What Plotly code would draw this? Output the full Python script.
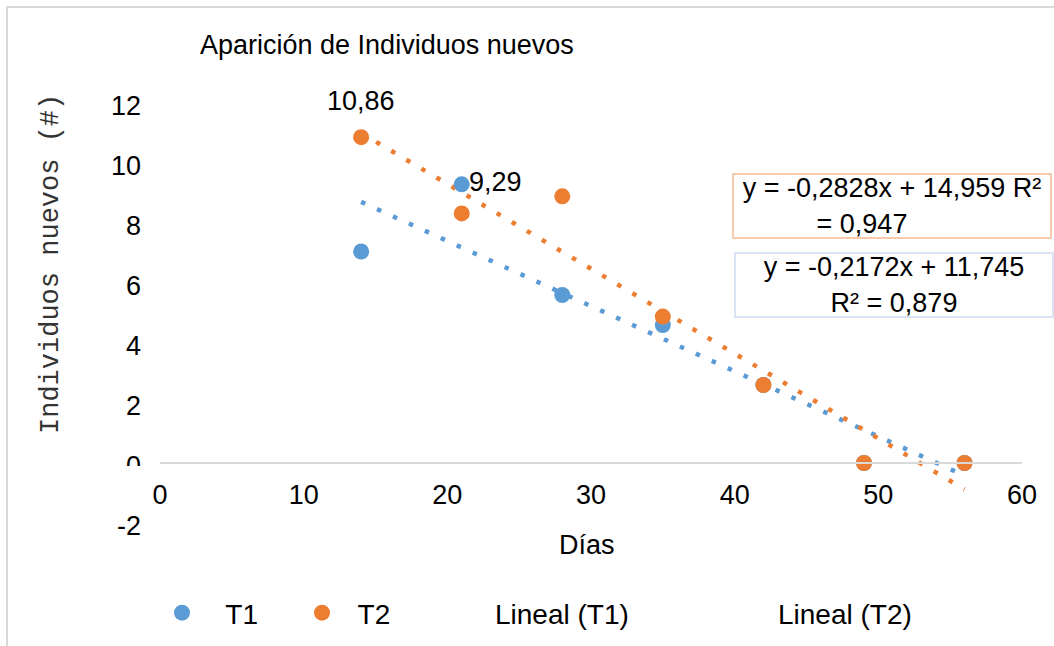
import plotly.graph_objects as go

# Days of observation and new individuals per treatment
dias = [14, 21, 28, 35, 42, 49, 56]
t1 = [7.05, 9.29, 5.60, 4.60, 2.60, 0.0, 0.0]
t2 = [10.86, 8.32, 8.89, 4.88, 2.60, 0.0, 0.0]

# Linear trend coefficients (slope, intercept, R²)
fit_t1 = (-0.2172, 11.745, 0.879)
fit_t2 = (-0.2828, 14.959, 0.947)

x_ticks = [0, 10, 20, 30, 40, 50, 60]
y_ticks = [-2, 0, 2, 4, 6, 8, 10, 12]

BLUE = "#5B9BD5"
ORANGE = "#ED7D31"
FONT = "Liberation Sans, Arial, Helvetica, sans-serif"
FS = 27

W, H = 1054, 646
ML, MR, MT, MB = 160, 32, 103, 123


def paper_x(px):
    return (px - ML) / (W - ML - MR)


def paper_y(py):
    return (H - MB - py) / (H - MT - MB)


def fmt(v, d):
    return f"{v:.{d}f}".replace(".", ",")


def trend(fit, xs):
    m, b, _ = fit
    return [m * x + b for x in xs]


x_span = [min(dias), max(dias)]
dot = "4.5px,13px"

fig = go.Figure()

fig.add_trace(go.Scatter(
    x=x_span, y=trend(fit_t1, x_span), mode="lines",
    line=dict(color=BLUE, width=4.5, dash=dot), showlegend=False, hoverinfo="skip"))
fig.add_trace(go.Scatter(
    x=x_span, y=trend(fit_t2, x_span), mode="lines",
    line=dict(color=ORANGE, width=4.5, dash=dot), showlegend=False, hoverinfo="skip"))

fig.add_trace(go.Scatter(
    x=dias, y=t1, mode="markers", name="\u00a0\u00a0\u00a0T1",
    marker=dict(color=BLUE, size=16), legend="legend"))
fig.add_trace(go.Scatter(
    x=dias, y=t2, mode="markers", name="\u00a0\u00a0T2",
    marker=dict(color=ORANGE, size=16), legend="legend2"))

# legend entries for the trend lines (no symbol shown)
fig.add_trace(go.Scatter(
    x=[None], y=[None], mode="lines", name="Lineal (T1)",
    line=dict(color="rgba(0,0,0,0)"), legend="legend3"))
fig.add_trace(go.Scatter(
    x=[None], y=[None], mode="lines", name="Lineal (T2)",
    line=dict(color="rgba(0,0,0,0)"), legend="legend4"))

legend_y = paper_y(613)
leg_common = dict(orientation="h", yanchor="middle", y=legend_y, xanchor="left",
                  font=dict(family=FONT, size=28, color="#000"),
                  bgcolor="rgba(0,0,0,0)", borderwidth=0, itemwidth=30)

fig.update_layout(
    width=W, height=H,
    margin=dict(l=ML, r=MR, t=MT, b=MB, autoexpand=False),
    paper_bgcolor="white", plot_bgcolor="white",
    font=dict(family=FONT, size=FS, color="#000"),
    title=dict(text="Aparición de Individuos nuevos", x=200 / W, xanchor="left",
               y=1 - 45 / H, yanchor="middle",
               font=dict(family=FONT, size=FS, color="#000")),
    xaxis=dict(range=[0, 60], tickvals=x_ticks, ticktext=[str(v) for v in x_ticks],
               showgrid=False, zeroline=False, showline=True, linecolor="#D9D9D9",
               linewidth=2, ticks="", anchor="free", position=2 / 14,
               tickfont=dict(size=FS), ticklabelstandoff=8),
    yaxis=dict(range=[-2, 12], tickvals=y_ticks, ticktext=[str(v) for v in y_ticks],
               showgrid=False, zeroline=False, showline=False, ticks="",
               tickfont=dict(size=FS), ticklabelstandoff=18, ticklabelshift=3),
    legend=dict(x=paper_x(162), **leg_common),
    legend2=dict(x=paper_x(302), **leg_common),
    legend3=dict(x=paper_x(455), **leg_common),
    legend4=dict(x=paper_x(738), **leg_common),
)

# point value labels
fig.add_annotation(x=dias[0], y=t2[0], text=fmt(t2[0], 2), showarrow=False,
                   xanchor="center", yanchor="middle", yshift=36, font=dict(size=FS))
fig.add_annotation(x=dias[1], y=t1[1], text=fmt(t1[1], 2), showarrow=False,
                   xanchor="left", yanchor="middle", xshift=5, yshift=2,
                   font=dict(size=FS))

# trend equations
eq2 = (f"y = {fmt(fit_t2[0], 4)}x + {fmt(fit_t2[1], 3)} R²<br>"
       f"= {fmt(fit_t2[2], 3)}" + "\u00a0" * 8)
eq1 = (f"y = {fmt(fit_t1[0], 4)}x + {fmt(fit_t1[1], 3)}<br>"
       f"R² = {fmt(fit_t1[2], 3)}")
fig.add_annotation(xref="paper", yref="paper", x=paper_x(892), y=paper_y(206),
                   xanchor="center", yanchor="middle",
                   text=eq2, showarrow=False, align="center", width=316, height=62,
                   bordercolor="#F8CBAD", borderwidth=2, borderpad=0, bgcolor="white",
                   font=dict(size=FS))
fig.add_annotation(xref="paper", yref="paper", x=paper_x(894), y=paper_y(285),
                   xanchor="center", yanchor="middle",
                   text=eq1, showarrow=False, align="center", width=316, height=62,
                   bordercolor="#DAE3F3", borderwidth=2, borderpad=0, bgcolor="white",
                   font=dict(size=FS))

# axis titles
fig.add_annotation(xref="paper", yref="paper", x=paper_x(51), y=paper_y(264),
                   xanchor="center", yanchor="middle",
                   text="Individuos nuevos (#)", textangle=-90, showarrow=False,
                   font=dict(family="Courier New, Liberation Mono, monospace",
                             size=27, color="#333"))
fig.add_annotation(xref="paper", yref="paper", x=paper_x(587), y=paper_y(545),
                   xanchor="center", yanchor="middle",
                   text="Días", showarrow=False, font=dict(size=FS))

# chart frame
fig.add_shape(type="rect", xref="paper", yref="paper",
              x0=paper_x(7), x1=paper_x(1070), y0=paper_y(660), y1=paper_y(7),
              line=dict(color="#D9D9D9", width=2), fillcolor="rgba(0,0,0,0)",
              layer="below")

# the "0" label on the value axis sits partly behind the category labels
fig.add_shape(type="rect", xref="paper", yref="paper",
              x0=paper_x(100), x1=paper_x(153), y0=paper_y(490), y1=paper_y(466),
              line=dict(width=0), fillcolor="white", layer="above")

fig.write_html("out.html")
